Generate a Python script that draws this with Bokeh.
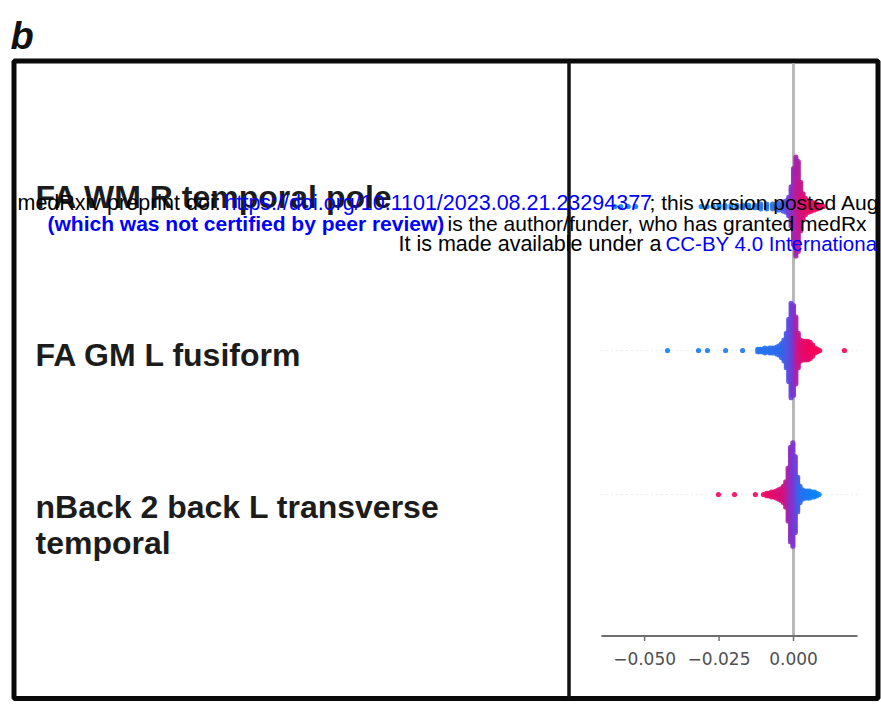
import numpy as np
from bokeh.plotting import figure
from bokeh.models import Range1d, LinearColorMapper, ColumnDataSource
from bokeh.core.properties import value
from bokeh.embed import file_html
from bokeh.resources import INLINE

# ---------------- data ----------------
panel_label = "b"
features = ["FA WM R temporal pole", "FA GM L fusiform", "nBack 2 back L transverse\ntemporal"]

# SHAP value bins (centre), number of samples in bin, mean feature value (0 = low, 1 = high)
r1_shap = [-0.0600, -0.0580, -0.0555, -0.0530, -0.0310, -0.0290, -0.0270, -0.0250, -0.0230,
           -0.0210, -0.0190, -0.0170, -0.0150, -0.0130, -0.0110, -0.0090, -0.0070, -0.0050,
           -0.0035, -0.0024, -0.0016, -0.0008, 0.0000, 0.0008, 0.0016, 0.0024, 0.0032,
           0.0040, 0.0050, 0.0060, 0.0070, 0.0080, 0.0090, 0.0100]
r1_count = [1, 1, 1, 1, 1, 1, 1, 2, 2,
            2, 2, 2, 2, 2, 3, 3, 3, 4,
            5, 6, 9, 18, 34, 44, 40, 22, 12,
            8, 6, 5, 4, 3, 2, 1]
r1_feat = [0.02, 0.02, 0.03, 0.03, 0.05, 0.05, 0.06, 0.06, 0.07,
           0.08, 0.08, 0.1, 0.1, 0.12, 0.12, 0.15, 0.15, 0.2,
           0.25, 0.32, 0.42, 0.52, 0.62, 0.7, 0.76, 0.82, 0.88,
           0.9, 0.92, 0.94, 0.95, 0.96, 0.97, 0.98]

r2_shap = [-0.0423, -0.0319, -0.0289, -0.0228, -0.0171, -0.0120, -0.0112, -0.0104, -0.0096,
           -0.0088, -0.0080, -0.0072, -0.0064, -0.0056, -0.0048, -0.0040, -0.0032, -0.0024,
           -0.0016, -0.0008, 0.0000, 0.0008, 0.0016, 0.0024, 0.0032, 0.0040, 0.0048,
           0.0056, 0.0064, 0.0072, 0.0080, 0.0088, 0.0171]
r2_count = [1, 1, 1, 1, 1, 2, 2, 2, 3,
            2, 3, 3, 3, 4, 5, 7, 10, 16,
            28, 42, 40, 30, 16, 10, 9, 9, 9,
            8, 6, 3, 2, 1, 1]
r2_feat = [0.05, 0.08, 0.08, 0.1, 0.12, 0.12, 0.14, 0.14, 0.15,
           0.15, 0.16, 0.16, 0.17, 0.18, 0.18, 0.2, 0.22, 0.26,
           0.32, 0.38, 0.5, 0.66, 0.78, 0.86, 0.9, 0.92, 0.94,
           0.95, 0.96, 0.97, 0.97, 0.98, 0.98]

r3_shap = [-0.0252, -0.0198, -0.0128, -0.0101, -0.0090, -0.0082, -0.0074, -0.0066, -0.0058,
           -0.0050, -0.0042, -0.0034, -0.0026, -0.0018, -0.0010, -0.0002, 0.0006, 0.0014,
           0.0022, 0.0030, 0.0038, 0.0046, 0.0054, 0.0062, 0.0070, 0.0078, 0.0086]
r3_count = [1, 1, 1, 1, 2, 2, 3, 3, 4,
            5, 6, 8, 12, 24, 42, 46, 34, 16,
            8, 5, 4, 4, 4, 3, 3, 2, 1]
r3_feat = [0.95, 0.95, 0.94, 0.93, 0.92, 0.92, 0.9, 0.9, 0.88,
           0.86, 0.84, 0.82, 0.78, 0.7, 0.6, 0.5, 0.4, 0.28,
           0.2, 0.15, 0.12, 0.1, 0.08, 0.07, 0.06, 0.05, 0.05]

tick_values = [-0.050, -0.025, 0.000]
tick_labels = ["\u22120.050", "\u22120.025", "0.000"]
axis_limits = [-0.0645, 0.0215]

# watermark text as visible in the (cropped) figure
wm_line1 = ["medRxiv preprint doi: ", "https://doi.org/10.1101/2023.08.21.23294377",
            "; this version posted Aug"]
wm_line2 = ["(which was not certified by peer review)",
            " is the author/funder, who has granted medRx"]
wm_line3 = ["It is made available under a ", "CC-BY 4.0 Internationa"]

# ---------------- layout / style ----------------
W, H = 881, 705
X0, Y0 = 0, 0
ZERO_PX, PX_PER_UNIT = 793.0, 2978.0
row_y = [206, 350, 494]
label_baseline = [207, 365, 517]
LINE_STEP = 36
AXIS_Y = 635.5
DOT_STEP = 2.3
BASE_SHIFT = 0.32   # correction (in em) for where the renderer puts alphabetic baselines


def by(baseline, px):
    return baseline - BASE_SHIFT * px


BLUE = np.array([0, 139, 251])
MID = np.array([128, 52, 210])
RED = np.array([255, 0, 82])
palette = []
for t in np.linspace(0, 1, 256):
    c = BLUE + (MID - BLUE) * (t / 0.5) if t <= 0.5 else MID + (RED - MID) * ((t - 0.5) / 0.5)
    palette.append("#%02x%02x%02x" % tuple(int(round(v)) for v in c))
mapper = LinearColorMapper(palette=palette, low=0, high=1)

shap_start = (X0 - ZERO_PX) / PX_PER_UNIT
shap_end = (X0 + W - ZERO_PX) / PX_PER_UNIT

p = figure(width=W, height=H, output_backend="svg", toolbar_location=None,
           x_range=Range1d(X0, X0 + W), y_range=Range1d(Y0 + H, Y0),
           x_axis_location=None, y_axis_location=None, min_border=0,
           background_fill_color="white", border_fill_color="white")
p.extra_x_ranges = {"shap": Range1d(shap_start, shap_end)}
p.outline_line_color = None
p.xgrid.visible = False
p.ygrid.visible = False

FONT = value("Liberation Sans")

# panel letter
p.text(x=[10], y=[by(48, 38)], text=[panel_label], text_font=FONT, text_font_style="bold italic",
       text_font_size="38px", text_baseline="alphabetic", text_color="#111111")

# outer frame and divider
p.quad(left=[13.5], right=[877.5], top=[60.5], bottom=[698], fill_color=None,
       line_color="#0a0a0a", line_width=5)
p.segment(x0=[568.5], y0=[60.5], x1=[568.5], y1=[698], line_color="#111111", line_width=3.5)

# zero line
p.segment(x0=[0.0], y0=[63], x1=[0.0], y1=[AXIS_Y], x_range_name="shap",
          line_color="#b8b8b8", line_width=3)

# faint dotted row guides
p.segment(x0=[axis_limits[0]] * 3, y0=row_y, x1=[axis_limits[1]] * 3, y1=row_y,
          x_range_name="shap", line_color="#d6d6d6", line_width=1, line_dash="1 4")

# beeswarm points
xs, ys, cs = [], [], []
for ry, shap, count, feat in [(row_y[0], r1_shap, r1_count, r1_feat),
                              (row_y[1], r2_shap, r2_count, r2_feat),
                              (row_y[2], r3_shap, r3_count, r3_feat)]:
    for v, n, f in zip(shap, count, feat):
        for k in range(n):
            off = (k - (n - 1) / 2.0) * DOT_STEP
            xs.append(v)
            ys.append(ry + off)
            edge = abs(off) / 55.0
            cs.append(f + (0.5 - f) * 0.35 * edge)
src = ColumnDataSource(dict(x=xs, y=ys, c=cs))
p.scatter(x="x", y="y", source=src, size=5.2, x_range_name="shap",
          fill_color={"field": "c", "transform": mapper}, line_color=None, fill_alpha=0.9)

# x axis (drawn inside the panel)
p.segment(x0=[axis_limits[0]], y0=[AXIS_Y], x1=[axis_limits[1]], y1=[AXIS_Y],
          x_range_name="shap", line_color="#6e6e6e", line_width=2.2)
p.segment(x0=tick_values, y0=[AXIS_Y] * 3, x1=tick_values, y1=[AXIS_Y + 5] * 3,
          x_range_name="shap", line_color="#6e6e6e", line_width=1.5)
p.text(x=tick_values, y=[AXIS_Y + 22] * 3, text=tick_labels, x_range_name="shap",
       text_font=value("DejaVu Sans"), text_font_size="17px", text_color="#505050",
       text_align="center", text_baseline="middle")

# feature labels
lx, ly, lt = [], [], []
for base, name in zip(label_baseline, features):
    for i, line in enumerate(name.split("\n")):
        lx.append(35)
        ly.append(by(base + i * LINE_STEP, 32))
        lt.append(line)
p.text(x=lx, y=ly, text=lt, text_font=FONT, text_font_style="bold", text_font_size="32px",
       text_color="#1c1c1c", text_baseline="alphabetic")

# medRxiv watermark
p.text(x=[17], y=[by(209, 21.5)], text=[wm_line1[0]], text_font=FONT,
       text_font_size="21.5px", text_color="black", text_baseline="alphabetic")
p.text(x=[224], y=[by(209, 21.5)], text=[wm_line1[1]], text_font=FONT,
       text_font_size="21.5px", text_color="#0000ff", text_baseline="alphabetic")
p.text(x=[649], y=[by(209, 21)], text=[wm_line1[2]], text_font=FONT,
       text_font_size="21px", text_color="black", text_baseline="alphabetic")
p.text(x=[47], y=[by(229.5, 21)], text=[wm_line2[0]], text_font=FONT, text_font_style="bold",
       text_font_size="21px", text_color="#0000ff", text_baseline="alphabetic")
p.text(x=[447], y=[by(229.5, 21)], text=[wm_line2[1]], text_font=FONT,
       text_font_size="21px", text_color="black", text_baseline="alphabetic")
p.text(x=[398], y=[by(250, 21.5)], text=[wm_line3[0]], text_font=FONT,
       text_font_size="21.5px", text_color="black", text_baseline="alphabetic")
p.text(x=[665], y=[by(250, 20.5)], text=[wm_line3[1]], text_font=FONT,
       text_font_size="20.5px", text_color="#0000ff", text_baseline="alphabetic")

open("out.html", "w").write(file_html(p, INLINE))
